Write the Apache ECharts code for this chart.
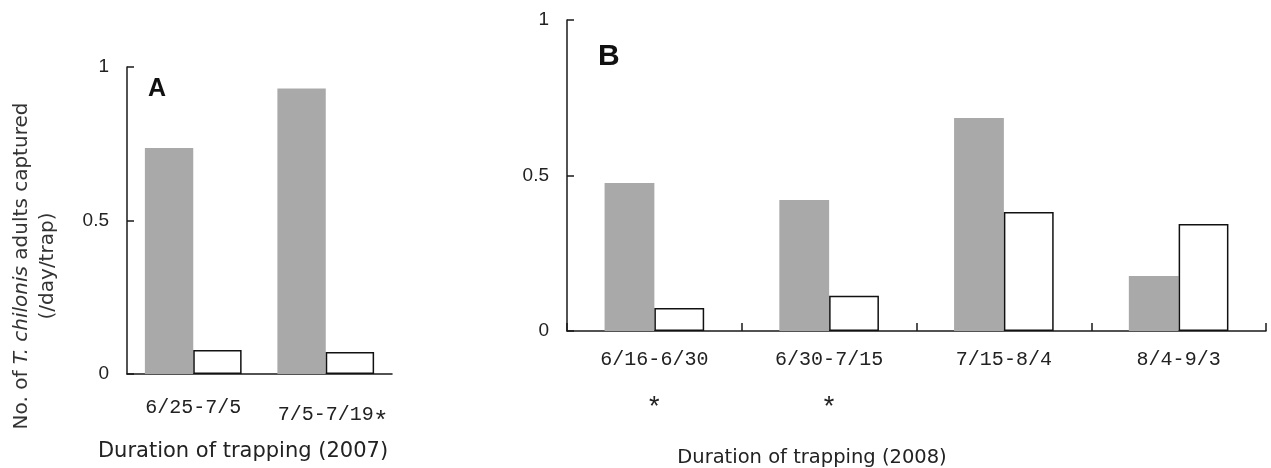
<!DOCTYPE html>
<html>
<head>
<meta charset="utf-8">
<script src="https://cdn.jsdelivr.net/npm/echarts@6/dist/echarts.min.js"></script>
<style>
  html, body { margin: 0; padding: 0; background: #fff; }
  #chart-container { width: 1271px; height: 468px; }
</style>
</head>
<body>
<div id="chart-container"></div>
<script>
// 数据
var catsA = ['6/25-7/5', '7/5-7/19'];
var greyA = [0.736, 0.93];
var whiteA = [0.078, 0.072];
var starA = [false, true]; // 名字后面带 *

var catsB = ['6/16-6/30', '6/30-7/15', '7/15-8/4', '8/4-9/3'];
var greyB = [0.476, 0.421, 0.685, 0.177];
var whiteB = [0.074, 0.113, 0.383, 0.344];
var starB = [true, true, false, false]; // 名字下面带 *

var yTicks = [0, 0.5, 1];

var dom = document.getElementById('chart-container');
var myChart = echarts.init(dom, null, { renderer: 'canvas' });

var AXIS = '#1a1a1a';
var GREY = '#a9a9a9';
var monoFont = 'Liberation Mono';
var sansFont = 'Liberation Sans';

function yAxis(gridIndex) {
  return {
    type: 'value',
    gridIndex: gridIndex,
    min: yTicks[0],
    max: yTicks[yTicks.length - 1],
    interval: 0.5,
    axisLine: { show: true, lineStyle: { color: AXIS, width: 1.5 } },
    axisTick: { show: true, inside: true, length: 7, lineStyle: { color: AXIS, width: 1.5 } },
    splitLine: { show: false },
    axisLabel: { color: '#222', fontFamily: sansFont, fontSize: 19, margin: 18 }
  };
}

var option = {
  animation: false,
  title: [
    { text: 'A', left: 143, top: 72, textStyle: { fontFamily: sansFont, fontWeight: 'bold', fontSize: 25, color: '#111' } },
    { text: 'B', left: 593, top: 37, textStyle: { fontFamily: sansFont, fontWeight: 'bold', fontSize: 30, color: '#111' } }
  ],
  // 坐标轴标题
  graphic: [
    {
      type: 'text', x: 35, y: 266, rotation: Math.PI / 2,
      style: {
        text: '{n|No. of }{i|T. chilonis}{n| adults captured}\n{n|(/day/trap)}',
        align: 'center', verticalAlign: 'middle',
        rich: {
          n: { font: '20px "DejaVu Sans"', fill: '#333', lineHeight: 26 },
          i: { font: 'italic 20px "DejaVu Sans"', fill: '#333', lineHeight: 26 }
        }
      }
    },
    {
      type: 'text', x: 243, y: 452,
      style: { text: 'Duration of trapping (2007)', align: 'center', verticalAlign: 'middle',
        font: '21px "DejaVu Sans"', fill: '#222' }
    },
    {
      type: 'text', x: 812, y: 458,
      style: { text: 'Duration of trapping (2008)', align: 'center', verticalAlign: 'middle',
        font: '19.5px "DejaVu Sans"', fill: '#222' }
    }
  ],
  grid: [
    { left: 127, top: 67, width: 265, height: 307, outerBoundsMode: 'none', containLabel: false },
    { left: 567, top: 20, width: 699, height: 311, outerBoundsMode: 'none', containLabel: false }
  ],
  xAxis: [
    {
      type: 'category',
      gridIndex: 0,
      data: catsA,
      axisLine: { lineStyle: { color: AXIS, width: 1.5 } },
      axisTick: { show: false },
      axisLabel: {
        interval: 0,
        hideOverlap: false,
        margin: 22,
        formatter: function (v, i) {
          return starA[i] ? '{h|*}{t|' + v + '}{s|*}' : '{t|' + v + '}';
        },
        rich: {
          t: { fontFamily: monoFont, fontSize: 20, color: '#222', lineHeight: 24 },
          s: { fontFamily: sansFont, fontSize: 26, color: '#222', padding: [12, 0, 0, 2] },
          h: { fontFamily: sansFont, fontSize: 26, color: 'rgba(0,0,0,0)', padding: [12, 2, 0, 0] }
        }
      }
    },
    {
      type: 'category',
      gridIndex: 1,
      data: catsB,
      axisLine: { lineStyle: { color: AXIS, width: 1.5 } },
      axisTick: { show: true, inside: true, length: 8, lineStyle: { color: AXIS, width: 1.5 } },
      axisLabel: {
        interval: 0,
        hideOverlap: false,
        margin: 17,
        formatter: function (v, i) {
          return starB[i] ? '{t|' + v + '}\n{s|*}' : '{t|' + v + '}';
        },
        rich: {
          t: { fontFamily: monoFont, fontSize: 20, color: '#222', lineHeight: 24 },
          s: { fontFamily: sansFont, fontSize: 27, color: '#222', lineHeight: 72 }
        }
      }
    }
  ],
  yAxis: [yAxis(0), yAxis(1)],
  series: [
    {
      type: 'bar', xAxisIndex: 0, yAxisIndex: 0, data: greyA,
      barGap: '0%', barCategoryGap: '27%',
      itemStyle: { color: GREY }
    },
    {
      type: 'bar', xAxisIndex: 0, yAxisIndex: 0, data: whiteA,
      barGap: '0%', barCategoryGap: '27%',
      itemStyle: { color: '#fff', borderColor: '#111', borderWidth: 1.5 }
    },
    {
      type: 'bar', xAxisIndex: 1, yAxisIndex: 1, data: greyB,
      barGap: '0%', barCategoryGap: '43%',
      itemStyle: { color: GREY }
    },
    {
      type: 'bar', xAxisIndex: 1, yAxisIndex: 1, data: whiteB,
      barGap: '0%', barCategoryGap: '43%',
      itemStyle: { color: '#fff', borderColor: '#111', borderWidth: 1.5 }
    }
  ]
};

myChart.setOption(option);
window.addEventListener('resize', myChart.resize);
</script>
</body>
</html>
